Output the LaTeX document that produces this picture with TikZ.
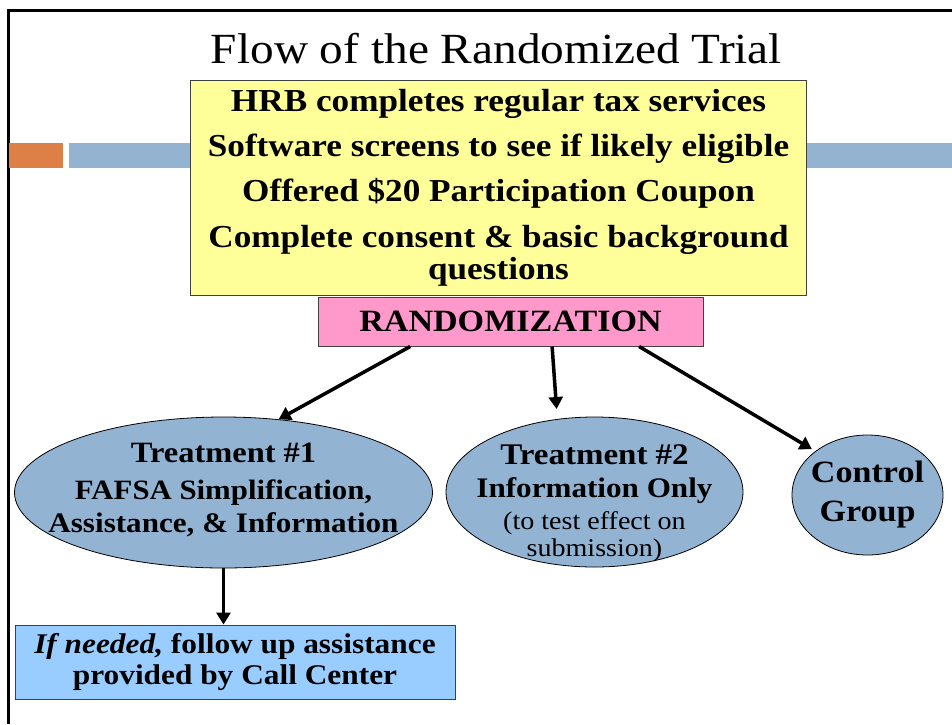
\documentclass[tikz,border=0pt]{standalone}
\usepackage{fontspec}
\setmainfont[FakeStretch=1.1]{Liberation Serif}
\usetikzlibrary{shapes.geometric,arrows.meta}
\definecolor{yel}{RGB}{255,255,153}
\definecolor{pnk}{RGB}{255,153,204}
\definecolor{ellc}{RGB}{147,179,210}
\definecolor{lblue}{RGB}{153,204,255}
\definecolor{orng}{RGB}{221,128,71}
\definecolor{bbar}{RGB}{148,179,209}
\definecolor{edge}{RGB}{64,64,64}
\tikzset{
  shapebox/.style={draw=edge, line width=1pt, inner sep=0pt, align=center, font=\bfseries},
  oval/.style={ellipse, draw=black, line width=0.8pt, fill=ellc, inner sep=-100pt, align=center, font=\bfseries},
  flow/.style={line width=3.5pt, -{Triangle[width=14pt,length=12pt]}},
}
\begin{document}
\begin{tikzpicture}[x=1pt,y=-1pt]
\useasboundingbox (0,0) rectangle (952,724);
\fill[white] (0,0) rectangle (952,724);
% frame
\draw[line width=2.7pt] (8.7,724) -- (8.7,10.7) -- (952,10.7);
% bars
\fill[orng] (9,142.7) rectangle (63,167.7);
\fill[bbar] (69,142.7) rectangle (952,167.7);
% title
\node[anchor=base, font=\fontsize{43}{46}\selectfont] (title) at (496.5,63) {Flow of the Randomized Trial};
% yellow box
\node[shapebox, fill=yel, minimum width=616, minimum height=215,
      font=\fontsize{32}{32}\bfseries\selectfont] (screen) at (498.5,188)
  {HRB completes regular tax services\\[13pt]
   Software screens to see if likely eligible\\[13pt]
   Offered \$20 Participation Coupon\\[14pt]
   Complete consent \& basic background\\
   questions};
% pink box
\node[shapebox, fill=pnk, minimum width=385, minimum height=49,
      font=\fontsize{31}{33}\bfseries\selectfont] (rand) at (510.5,321.5) {RANDOMIZATION};
% ellipses
\node[oval, minimum width=418, minimum height=151, font=\fontsize{28.3}{33}\bfseries\selectfont] (t1) at (223.5,492.5)
  {{\fontsize{29.5}{33}\selectfont Treatment \#1}\\[4pt]
   {\fontsize{28}{33}\selectfont FAFSA Simplification,}\\
   Assistance, \& Information\rule[-10pt]{0pt}{0pt}};
\node[oval, minimum width=297, minimum height=150, font=\fontsize{28.3}{33}\bfseries\selectfont] (t2) at (594.5,492)
  {\rule{0pt}{42pt}{\fontsize{30}{33}\selectfont Treatment \#2}\\
   Information Only\\[-1pt]
   {\fontsize{25.5}{27}\mdseries\selectfont (to test effect on}\\[-6pt]
   {\fontsize{25.5}{27}\mdseries\selectfont submission)}};
\node[oval, minimum width=151, minimum height=120, font=\fontsize{31}{39}\bfseries\selectfont] (ctrl) at (867.5,495)
  {Control\\Group};
% bottom box
\node[shapebox, fill=lblue, minimum width=440, minimum height=74,
      font=\fontsize{28.5}{31}\bfseries\selectfont] (call) at (235,662)
  {\textit{If needed,} follow up assistance\\provided by Call Center};
% arrows
\draw[flow] (rand.194) -- (t1.53);
\draw[flow, shorten >=10pt] (rand.329) -- (t2.117);
\draw[flow, shorten >=4pt] (rand.349) -- (ctrl.140);
\draw[flow] (t1.south) -- (t1.south |- call.north);
\end{tikzpicture}
\end{document}
